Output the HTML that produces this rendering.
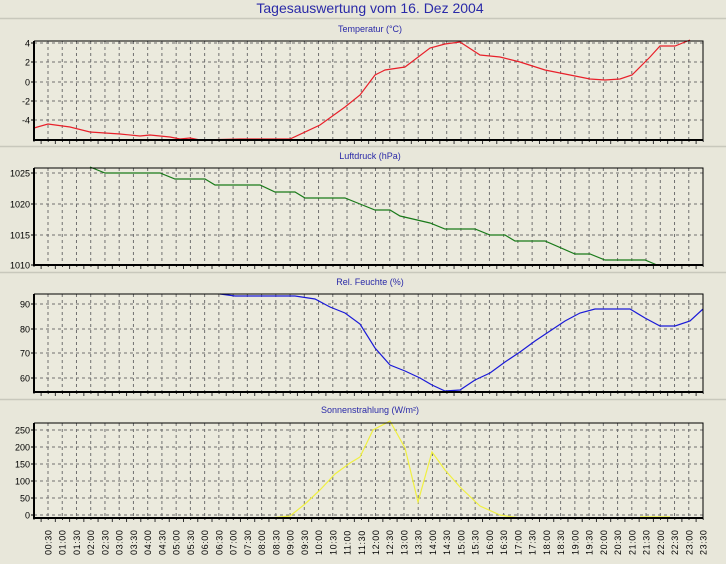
<!DOCTYPE html>
<html><head><meta charset="utf-8"><style>
html,body{margin:0;padding:0;background:#e8e7da;}
svg{display:block;font-family:"Liberation Sans",sans-serif;}
</style></head><body>
<svg width="726" height="564" viewBox="0 0 726 564" xmlns="http://www.w3.org/2000/svg">
<rect width="726" height="564" fill="#e8e7da"/>
<text x="370" y="13" font-size="14" fill="#2a2aa8" text-anchor="middle">Tagesauswertung vom 16. Dez 2004</text>
<g stroke="#c8c8bc" stroke-width="1.5">
<line x1="0" y1="18.5" x2="726" y2="18.5"/><line x1="0" y1="146.5" x2="726" y2="146.5"/>
<line x1="0" y1="272.5" x2="726" y2="272.5"/><line x1="0" y1="399.5" x2="726" y2="399.5"/>
</g>
<g font-size="9" fill="#2a2aa8" text-anchor="middle">
<text x="370" y="32">Temperatur (°C)</text>
<text x="370" y="159">Luftdruck (hPa)</text>
<text x="370" y="285">Rel. Feuchte (%)</text>
<text x="370" y="413">Sonnenstrahlung (W/m²)</text>
</g>
<g id="panels"></g>
<g font-size="9" fill="#000" id="xl"></g>
</svg>
<script>
var NS="http://www.w3.org/2000/svg";
var svg=document.querySelector('svg');
function el(n,a,p){var e=document.createElementNS(NS,n);for(var k in a)e.setAttribute(k,a[k]);(p||svg).appendChild(e);return e;}
var X0=34,X1=703;
var panels=[
 {t:41,b:140,ticks:[[43,'4'],[62,'2'],[82,'0'],[101,'-2'],[120,'-4']],col:'#e8202a',
  pts:[[34,128],[48,124],[70,127],[90,132],[120,134],[140,136],[150,135],[170,137],[180,139],[190,138],[200,140],[240,139],[290,139],[320,125],[345,107],[360,95],[375,75],[385,70],[405,67],[430,48],[445,44],[460,42],[480,55],[500,57],[520,62],[545,70],[570,75],[590,79],[605,80],[620,79],[632,75],[650,57],[660,46],[675,46],[690,40]]},
 {t:168,b:265,ticks:[[173,'1025'],[204,'1020'],[235,'1015'],[265,'1010']],col:'#1a7a1a',
  pts:[[90,167],[105,173],[160,173],[175,179],[205,179],[215,185],[260,185],[275,192],[295,192],[305,198],[345,198],[360,204],[375,210],[390,210],[400,216],[430,223],[445,229],[475,229],[490,235],[505,235],[515,241],[545,241],[575,254],[590,254],[605,260],[645,260],[657,265]]},
 {t:294,b:392,ticks:[[304,'90'],[329,'80'],[353,'70'],[378,'60']],col:'#1a1ad8',
  pts:[[220,294],[235,296],[295,296],[315,299],[330,307],[345,313],[360,324],[375,348],[390,365],[405,371],[420,378],[432,385],[445,391],[460,390],[475,380],[490,373],[505,362],[520,352],[535,341],[550,331],[565,321],[580,313],[595,309],[630,309],[645,318],[660,326],[675,326],[690,321],[703,309]]},
 {t:423,b:518,ticks:[[430,'250'],[447,'200'],[464,'150'],[481,'100'],[498,'50'],[515,'0']],col:'#f0f040',
  pts:[[270,518],[290,516],[305,504],[320,490],[335,474],[350,463],[360,457],[373,430],[390,421],[405,448],[418,502],[432,452],[445,470],[460,487],[480,506],[500,515],[520,518]],extra:[[640,517],[670,517]]}
];
var step=(X1-48)/46;
panels.forEach(function(p){
 el('rect',{x:X0,y:p.t,width:X1-X0,height:p.b-p.t,fill:'#ebeadd'});
 for(var i=0;i<=46;i++){var x=48+i*step;el('line',{x1:x,y1:p.t,x2:x,y2:p.b,stroke:'#707070','stroke-width':1,'stroke-dasharray':'3,3'});}
 p.ticks.forEach(function(tk){el('line',{x1:X0,y1:tk[0],x2:X1,y2:tk[0],stroke:'#707070','stroke-width':1,'stroke-dasharray':'3,3'});
  el('line',{x1:X0-3,y1:tk[0],x2:X0,y2:tk[0],stroke:'#000'});
  var t=el('text',{x:X0-4,y:tk[0]+3.5,'font-size':9,'text-anchor':'end',fill:'#000'});t.textContent=tk[1];});
 for(var i=0;i<=94;i++){var x=X0+i*step/2;el('line',{x1:x,y1:p.b,x2:x,y2:p.b+(i%2==1?4:2),stroke:'#333','stroke-width':1});}
 el('polyline',{points:p.pts.map(function(a){return a.join(',')}).join(' '),fill:'none',stroke:p.col,'stroke-width':1.2});
 if(p.extra)el('polyline',{points:p.extra.map(function(a){return a.join(',')}).join(' '),fill:'none',stroke:p.col,'stroke-width':1.5});
 el('polyline',{points:X0+','+p.t+' '+X1+','+p.t+' '+X1+','+p.b,fill:'none',stroke:'#000','stroke-width':1});
 el('polyline',{points:X0+','+p.t+' '+X0+','+p.b+' '+X1+','+p.b,fill:'none',stroke:'#000','stroke-width':2});
});
var xl=document.getElementById('xl');
for(var i=0;i<=46;i++){var x=48+i*step;var m=(i+1)*30;var h=Math.floor(m/60),mm=m%60;
 var s=(h<10?'0':'')+h+':'+(mm<10?'0':'')+mm;
 var t=el('text',{x:0,y:0,transform:'translate('+(x+3.5)+',555) rotate(-90)','font-size':9,'letter-spacing':'0.6'},xl);t.textContent=s;}
</script>
</body></html>
